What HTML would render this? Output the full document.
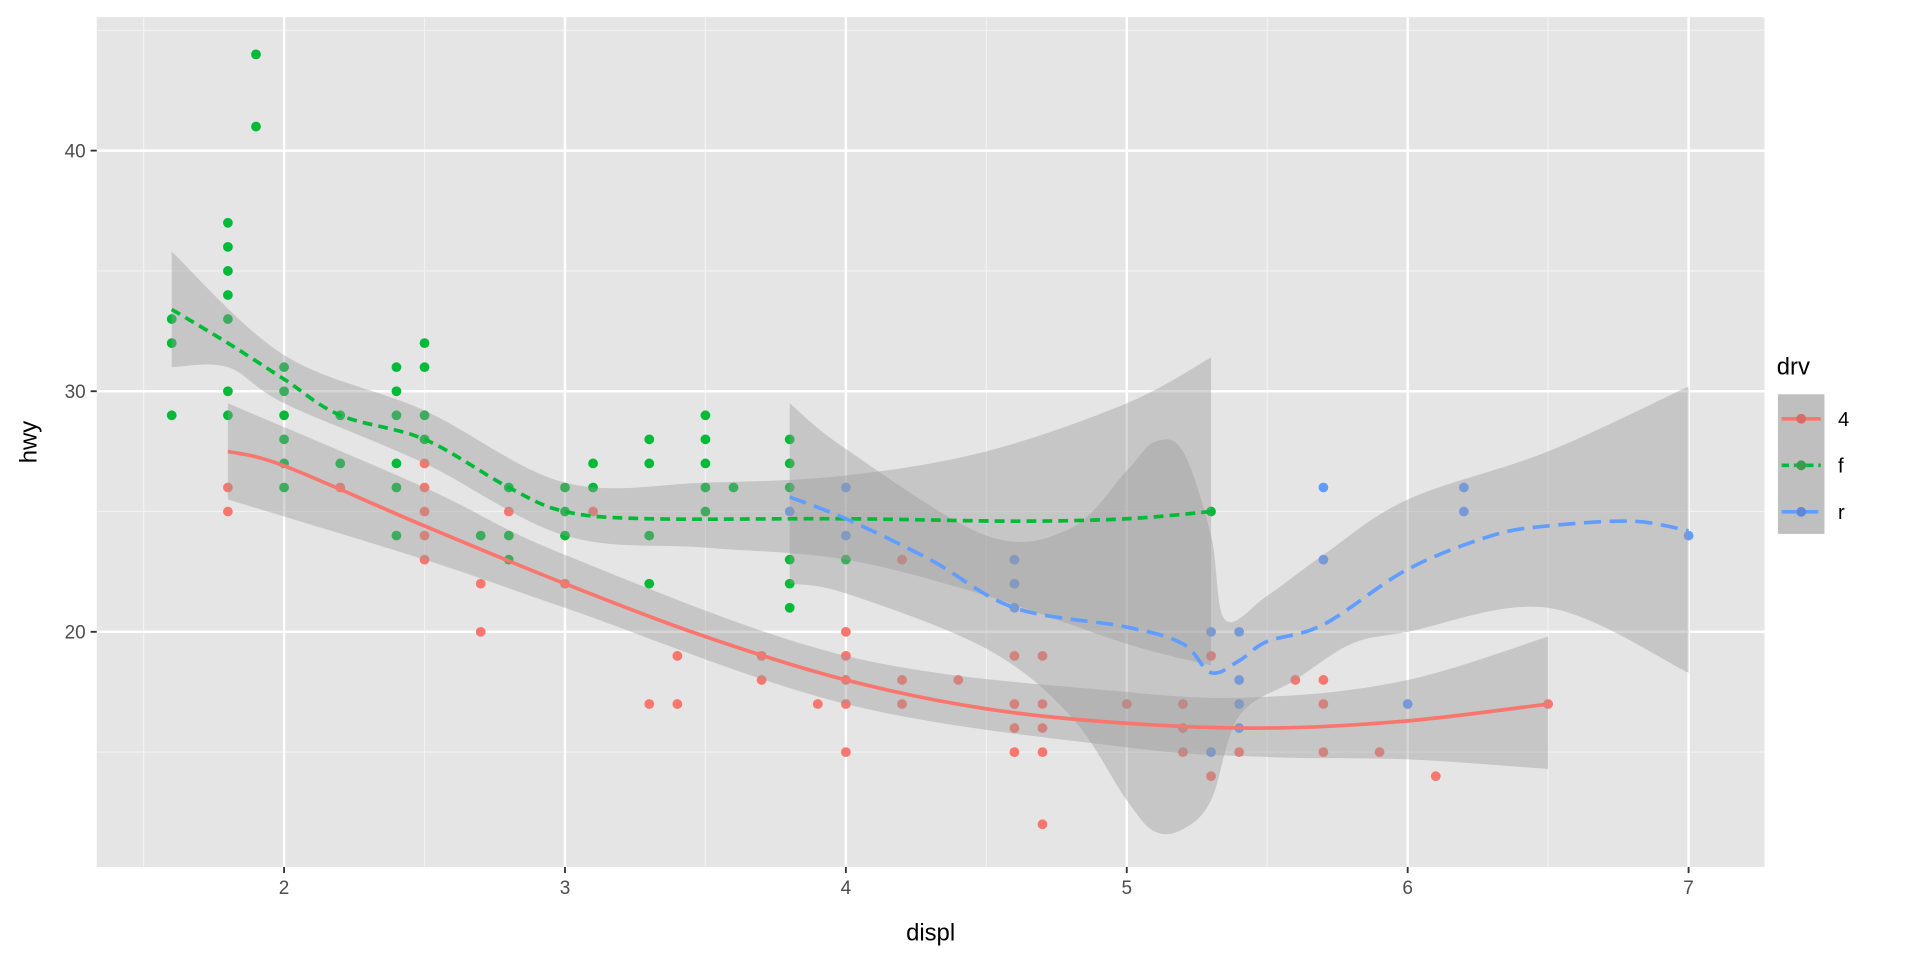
<!DOCTYPE html>
<html><head><meta charset="utf-8"><style>
html,body{margin:0;padding:0;background:#fff;}
svg{display:block;font-family:"Liberation Sans",Arial,sans-serif;}
</style></head><body>
<svg id="s" width="1920" height="960" viewBox="0 0 1568 784" xmlns="http://www.w3.org/2000/svg">
<rect x="79" y="14" width="1362" height="694" fill="#e5e5e5"/>
<g id="grid"></g>
<g id="pts"></g>
<g id="rib"></g>
<g id="lines"></g>
<g id="axes" fill="#4d4d4d" font-size="15.5"></g>
<text x="760" y="768" font-size="19.5" fill="#000" text-anchor="middle">displ</text>
<text transform="translate(30,361) rotate(-90)" font-size="19.5" fill="#000" text-anchor="middle">hwy</text>
<text x="1451" y="306" font-size="19.5" fill="#000">drv</text>
<rect x="1452" y="322" width="38" height="114" fill="#bfbfbf"/>
<line x1="1455" y1="342" x2="1487" y2="342" stroke="#F8766D" stroke-width="3"/>
<circle cx="1471" cy="342" r="4" fill="#d96b63"/>
<line x1="1455" y1="380" x2="1487" y2="380" stroke="#00BA38" stroke-width="3" stroke-dasharray="6,4"/>
<circle cx="1471" cy="380" r="4" fill="#3a9a4e"/>
<line x1="1455" y1="418" x2="1487" y2="418" stroke="#619CFF" stroke-width="3" stroke-dasharray="12,6"/>
<circle cx="1471" cy="418" r="4" fill="#5d88d9"/>
<text x="1501" y="348" font-size="16.5" fill="#000">4</text>
<text x="1501" y="386" font-size="16.5" fill="#000">f</text>
<text x="1501" y="424" font-size="16.5" fill="#000">r</text>
</svg>
<script>
const NS="http://www.w3.org/2000/svg";
const X=v=>232+(v-2)*229.4, Y=v=>516-(v-20)*19.65;
function el(p,t,a,txt){const e=document.createElementNS(NS,t);for(const k in a)e.setAttribute(k,a[k]);if(txt!==undefined)e.textContent=txt;document.getElementById(p).appendChild(e);return e;}
[1.5,2.5,3.5,4.5,5.5,6.5].forEach(v=>el("grid","line",{x1:X(v),x2:X(v),y1:14,y2:708,stroke:"#f2f2f2","stroke-width":1}));
[15,25,35,45].forEach(v=>{if(Y(v)>14)el("grid","line",{x1:79,x2:1441,y1:Y(v),y2:Y(v),stroke:"#f2f2f2","stroke-width":1})});
[2,3,4,5,6,7].forEach(v=>{el("grid","line",{x1:X(v),x2:X(v),y1:14,y2:708,stroke:"#fff","stroke-width":2});
 el("axes","line",{x1:X(v),x2:X(v),y1:708,y2:713,stroke:"#333","stroke-width":1.5});
 el("axes","text",{x:X(v),y:730,"text-anchor":"middle"},v);});
[20,30,40].forEach(v=>{el("grid","line",{x1:79,x2:1441,y1:Y(v),y2:Y(v),stroke:"#fff","stroke-width":2});
 el("axes","line",{x1:74,x2:79,y1:Y(v),y2:Y(v),stroke:"#333","stroke-width":1.5});
 el("axes","text",{x:70,y:Y(v)+5.5,"text-anchor":"end"},v);});
const R="#F8766D",G="#00BA38",B="#619CFF";
const P={};
P[G]=[[1.6,[33,32,29]],[1.8,[37,36,35,34,33,30,29]],[1.9,[44,41]],[2,[31,30,29,28,27,26]],[2.2,[29,27]],[2.4,[31,30,29,27,26,24]],[2.5,[32,31,29,28]],[2.8,[26,24,23]],[2.7,[24]],[3,[26,25,24]],[3.1,[27,26]],[3.3,[28,27,24,22]],[3.5,[29,28,27,26,25]],[3.6,[26]],[3.8,[28,27,26,23,22,21]],[4,[23]],[5.3,[25]]];
P[R]=[[1.8,[26,25]],[2.2,[26]],[2.5,[27,26,25,24,23]],[2.7,[22,20]],[2.8,[25]],[3,[22]],[3.1,[25]],[3.3,[17]],[3.4,[19,17]],[3.7,[19,18]],[3.9,[17]],[4,[20,19,18,17,15]],[4.2,[23,18,17]],[4.4,[18]],[4.6,[19,17,16,15]],[4.7,[19,17,16,15,12]],[5,[17]],[5.2,[17,16,15]],[5.3,[19,14]],[5.4,[15]],[5.6,[18]],[5.7,[18,17,15]],[5.9,[15]],[6.1,[14]],[6.5,[17]]];
P[B]=[[3.8,[25]],[4,[26,24]],[4.6,[23,22,21]],[5.3,[20,15]],[5.4,[20,18,17,16]],[5.7,[26,23]],[6,[17]],[6.2,[26,25]],[7,[24]]];
for(const c in P)P[c].forEach(([x,ys])=>ys.forEach(y=>el("pts","circle",{cx:X(x),cy:Y(y),r:4,fill:c})));
function smooth(pts){let d=`M${pts[0][0]},${pts[0][1]}`;for(let i=0;i<pts.length-1;i++){const p0=pts[i-1]||pts[i],p1=pts[i],p2=pts[i+1],p3=pts[i+2]||p2;
 d+=` C${p1[0]+(p2[0]-p0[0])/6},${p1[1]+(p2[1]-p0[1])/6} ${p2[0]-(p3[0]-p1[0])/6},${p2[1]-(p3[1]-p1[1])/6} ${p2[0]},${p2[1]}`;}return d;}
const tp=a=>a.map(([x,y])=>[X(x),Y(y)]);
function ribbon(up,lo){const u=tp(up),l=tp(lo).reverse();let d=smooth(u);d+=" L"+smooth(l).slice(1)+" Z";el("rib","path",{d,fill:"#999999","fill-opacity":0.4});}
ribbon([[1.8,29.5],[2.5,26],[3,23.2],[4,19],[5,17.5],[5.5,17.3],[6,18],[6.5,19.8]],[[1.8,25.5],[2.5,23],[3,21],[4,17],[5,15.2],[5.5,14.8],[6,14.7],[6.5,14.3]]);
ribbon([[1.6,35.8],[2,31.5],[2.5,29.2],[3,26.2],[3.5,26.2],[4,26.5],[4.5,27.5],[5,29.5],[5.3,31.4]],[[1.6,31],[1.8,31],[2,29.5],[2.5,27],[3,24],[3.5,23.5],[4,23],[4.5,21.5],[5,19.5],[5.3,18.6]]);
ribbon([[3.8,29.5],[4,27.6],[4.5,24],[4.8,24.3],[5,26.7],[5.1,27.9],[5.2,27.5],[5.3,24],[5.35,20.5],[5.5,21.5],[5.7,23.2],[6,25.5],[6.5,27.5],[7,30.2]],[[3.8,22],[4,21.6],[4.5,19.3],[4.8,16.5],[5,13],[5.1,11.7],[5.2,11.8],[5.3,13],[5.4,16.5],[5.6,18],[5.8,19.5],[6,20],[6.5,21],[7,18.3]]);
el("lines","path",{d:smooth(tp([[1.8,27.5],[2,26.9],[2.5,24.4],[3,22],[3.5,19.8],[4,18],[4.5,16.8],[5,16.2],[5.5,16],[6,16.3],[6.5,17]])),fill:"none",stroke:R,"stroke-width":3});
el("lines","path",{d:smooth(tp([[1.6,33.4],[1.8,32],[2,30.5],[2.2,29],[2.5,28],[2.8,26],[3,25],[3.3,24.7],[4,24.7],[4.6,24.6],[5,24.7],[5.3,25]])),fill:"none",stroke:G,"stroke-width":3,"stroke-dasharray":"8,5"});
el("lines","path",{d:smooth(tp([[3.8,25.6],[4,24.7],[4.3,23],[4.6,21],[5,20.2],[5.2,19.5],[5.3,18.3],[5.4,18.8],[5.5,19.6],[5.7,20.3],[6,22.6],[6.3,24],[6.5,24.4],[6.8,24.6],[7,24.2]])),fill:"none",stroke:B,"stroke-width":3,"stroke-dasharray":"14,7"});
</script>
</body></html>
